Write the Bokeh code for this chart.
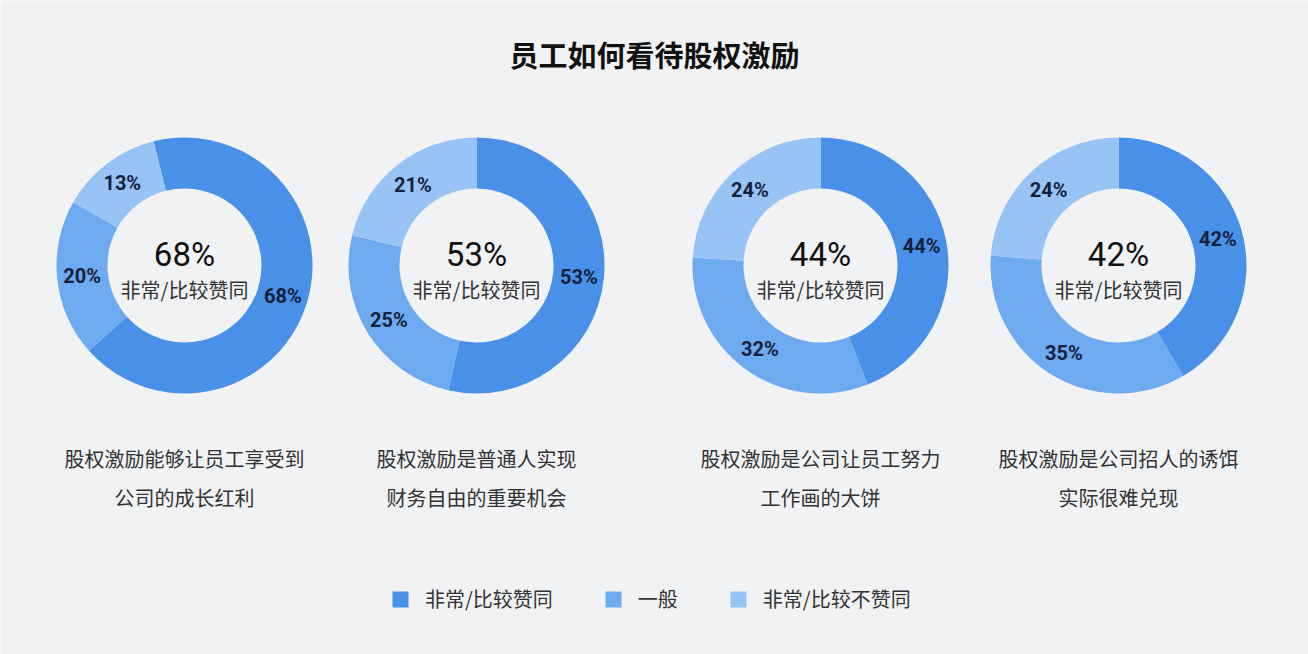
import numpy as np
from bokeh.plotting import figure
from bokeh.models import Range1d, ColumnDataSource, Legend, LegendItem
from bokeh.core.properties import value
from bokeh.embed import file_html
from bokeh.resources import INLINE

# ---------------- data ----------------
title = "员工如何看待股权激励"
categories = ["非常/比较赞同", "一般", "非常/比较不赞同"]
agree = [68, 53, 44, 42]
neutral = [20, 25, 32, 35]
disagree = [13, 21, 24, 24]
captions_line1 = ["股权激励能够让员工享受到", "股权激励是普通人实现",
                  "股权激励是公司让员工努力", "股权激励是公司招人的诱饵"]
captions_line2 = ["公司的成长红利", "财务自由的重要机会", "工作画的大饼", "实际很难兑现"]
start_offsets_deg = [-14, 0, 0, 0]

# ---------------- layout / style ----------------
W, H = 1308, 654
centers_x = [184, 476, 820, 1118]
center_y = 389
R_OUT, R_IN, R_LABEL = 128, 77, 103
colors = ["#4990e8", "#6eaaf0", "#98c4f5"]
BG = "#f1f2f4"
CJK = "Noto Sans CJK SC"
NUM = "Roboto"

p = figure(width=W, height=H, x_range=Range1d(0, W), y_range=Range1d(0, H),
           output_backend="svg", toolbar_location=None, min_border=0)
p.axis.visible = False
p.grid.visible = False
p.outline_line_color = None
p.background_fill_color = BG
p.border_fill_color = BG

vals = np.array([agree, neutral, disagree], dtype=float)
frac = vals / vals.sum(axis=0)
cum = np.vstack([np.zeros(vals.shape[1]), np.cumsum(frac, axis=0)])
offs = np.array(start_offsets_deg, dtype=float)

renderers = []
lab_x, lab_y, lab_t = [], [], []
for i, cat in enumerate(categories):
    ts = offs + cum[i] * 360.0
    te = offs + cum[i + 1] * 360.0
    src = ColumnDataSource(dict(
        x=centers_x, y=[center_y] * len(centers_x),
        start=np.radians(90 - ts), end=np.radians(90 - te)))
    r = p.annular_wedge(x="x", y="y", inner_radius=R_IN, outer_radius=R_OUT,
                        start_angle="start", end_angle="end", direction="clock",
                        fill_color=colors[i], line_color=None, source=src)
    renderers.append(r)
    mid = np.radians((ts + te) / 2)
    for k in range(len(centers_x)):
        lab_x.append(centers_x[k] + R_LABEL * np.sin(mid[k]))
        lab_y.append(center_y + R_LABEL * np.cos(mid[k]))
        lab_t.append(f"{int(vals[i, k])}%")

p.text(x=lab_x, y=lab_y, text=lab_t, text_font=value(NUM), text_font_style="bold",
       text_font_size="20px", text_color="#14213d", text_align="center",
       text_baseline="middle")

# center texts
p.text(x=centers_x, y=[400] * 4, text=[f"{v}%" for v in agree],
       text_font=value(NUM), text_font_size="33px", text_color="#111111",
       text_align="center", text_baseline="middle")
p.text(x=centers_x, y=[365] * 4, text=[categories[0]] * 4,
       text_font=value(CJK), text_font_size="20px", text_color="#333333",
       text_align="center", text_baseline="middle")

# captions
p.text(x=centers_x, y=[196] * 4, text=captions_line1, text_font=value(CJK),
       text_font_size="20px", text_color="#333333", text_align="center",
       text_baseline="middle")
p.text(x=centers_x, y=[157] * 4, text=captions_line2, text_font=value(CJK),
       text_font_size="20px", text_color="#333333", text_align="center",
       text_baseline="middle")

# title
p.text(x=[654], y=[601], text=[title], text_font=value(CJK), text_font_style="bold",
       text_font_size="29px", text_color="#111111", text_align="center",
       text_baseline="middle")

legend = Legend(items=[LegendItem(label=c, renderers=[r]) for c, r in zip(categories, renderers)],
                orientation="horizontal", location=(390, 41), padding=0, margin=0,
                glyph_width=20, glyph_height=20, label_height=20, label_standoff=15,
                spacing=50, label_text_font=CJK, label_text_font_size="20px",
                label_text_color="#333333", label_text_baseline="middle",
                border_line_color=None, background_fill_alpha=0)
p.add_layout(legend, "center")

open("out.html", "w").write(file_html(p, INLINE))
